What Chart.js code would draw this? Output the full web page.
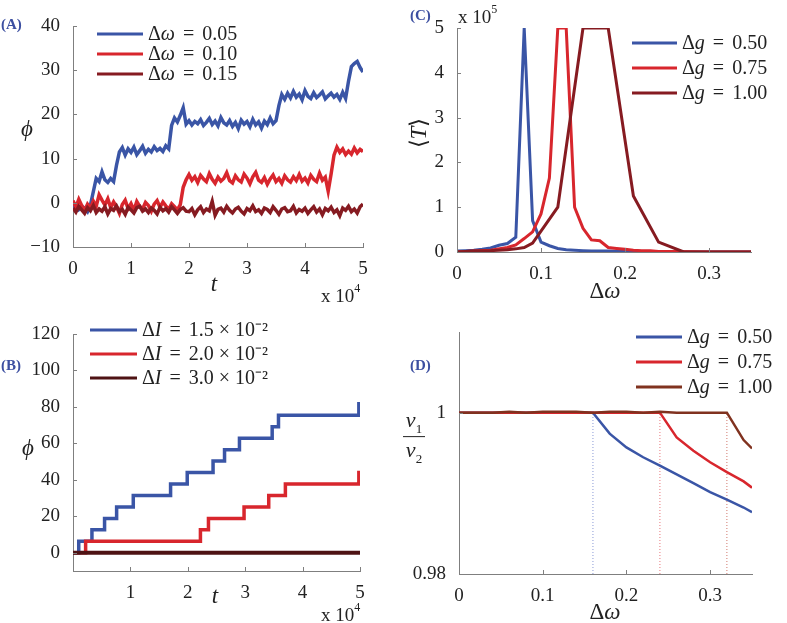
<!DOCTYPE html>
<html>
<head>
<meta charset="utf-8">
<title>phase slips</title>
<script src="https://cdn.jsdelivr.net/npm/chart.js@4.4.0/dist/chart.umd.min.js"></script>
<style>
body { margin: 0; background: #fff; width: 787px; height: 623px; position: relative; overflow: hidden;
       font-family: "Liberation Serif", serif; color: #222; }
.box { position: absolute; }
.txt { position: absolute; white-space: nowrap; line-height: 1; }
.c { transform: translate(-50%, -50%); }
.tag { color: #3c4fa1; font-weight: bold; font-size: 15px; }
.ax { font-size: 23px; }
.mul { font-size: 19px; }
.mul sup { font-size: 12px; position: relative; top: -3px; }
.frac { display: flex; flex-direction: column; align-items: center; font-size: 22px; }
.frac sub { font-size: 13px; }
.frac .bar { width: 22px; border-top: 1.5px solid #222; margin: 2px 0; }
</style>
</head>
<body>
<div class="box" style="left:0;top:0;width:393px;height:310px"><canvas id="chartA"></canvas></div>
<div class="box" style="left:0;top:310px;width:393px;height:313px"><canvas id="chartB"></canvas></div>
<div class="box" style="left:393px;top:0;width:394px;height:310px"><canvas id="chartC"></canvas></div>
<div class="box" style="left:393px;top:310px;width:394px;height:313px"><canvas id="chartD"></canvas></div>

<div class="txt tag" style="left:1px;top:17px">(A)</div>
<div class="txt tag" style="left:1px;top:358px">(B)</div>
<div class="txt tag" style="left:410px;top:8px">(C)</div>
<div class="txt tag" style="left:410px;top:358px">(D)</div>

<div class="txt ax c" style="left:27px;top:128px"><i>ϕ</i></div>
<div class="txt ax c" style="left:214px;top:283px"><i>t</i></div>
<div class="txt mul" style="left:321px;top:285px">x 10<sup>4</sup></div>

<div class="txt ax c" style="left:28px;top:447px"><i>ϕ</i></div>
<div class="txt ax c" style="left:215px;top:595px"><i>t</i></div>
<div class="txt mul" style="left:321px;top:604px">x 10<sup>4</sup></div>

<div class="txt mul" style="left:458px;top:6px">x 10<sup>5</sup></div>
<div class="txt ax c" style="left:418px;top:133px;transform:translate(-50%,-50%) rotate(-90deg)">⟨<i>T</i>⟩</div>
<div class="txt ax c" style="left:605px;top:290px">Δ<i>ω</i></div>

<div class="txt c" style="left:414px;top:437px"><div class="frac"><div><i>ν</i><sub>1</sub></div><div class="bar"></div><div><i>ν</i><sub>2</sub></div></div></div>
<div class="txt ax c" style="left:605px;top:611px">Δ<i>ω</i></div>

<script>
// ---------- (A) phi(t) for three frequency mismatches, sampled every 500 ----------
const labelsA = ["Δω = 0.05", "Δω = 0.10", "Δω = 0.15"];
const phiA1 = [
  -1, -0.5, -1.5, -0.8, -1.2, -2, -0.5, 2.5, 5.5, 4.8,
  7, 5.2, 4.6, 5.5, 4.8, 8.5, 11.5, 12.5, 10.8, 12.2,
  11.4, 12.6, 10.9, 11.8, 12.8, 11.2, 12.1, 11.5, 12.7, 11.8,
  12.3, 11.6, 12.9, 12.2, 17.5, 19.2, 18.3, 19.8, 21.5, 17.8,
  18.6, 17.6, 18.4, 17.9, 18.8, 17.5, 18.2, 19.1, 17.7, 18.5,
  17.4, 19.3, 18.1, 17.6, 18.6, 17.3, 18.2, 16.8, 18.7, 17.8,
  18.4, 17.2, 18.9, 17.6, 18.3, 16.9, 18.5, 17.7, 19.2, 17.9,
  18.6, 22, 24.5, 23.4, 24.8, 23.7, 25.2, 23.9, 24.6, 23.3,
  25.4, 24.1, 23.6, 24.9, 23.8, 24.4, 25.1, 23.5, 24.2, 24.8,
  23.9, 24.5, 23.4, 25, 23.6, 27.5, 30.8, 31.5, 32, 30.6,
  29.6
];
const phiA2 = [
  0.5, -1, 0.8, -0.6, -1.8, -0.3, -1.2, 0.4, -0.8, 1.8,
  0.6, -0.5, 0.9, -1.1, 0.2, -0.9, -2.4, -0.4, 0.6, -1.3,
  -0.2, -1.7, 0.3, -0.8, -1.4, 0.1, -0.6, -1.9, -0.3, 0.5,
  -1, 0.2, -0.7, -1.5, -0.2, -0.9, -1.6, -0.4, 3.5, 5.2,
  6.4, 5.1, 5.9, 4.6, 6.2, 5.4, 4.8, 6.6, 5.3, 4.4,
  5.8, 4.9, 5.5, 6.8, 5, 4.5, 6.1, 5.2, 4.7, 6.5,
  5.6, 4.3, 5.9, 6.9, 5.1, 4.6, 5.7, 4.2, 5.4, 6.3,
  4.8, 5.5, 4.4, 6.1, 5.2, 4.7, 5.9, 5, 6.4, 4.9,
  5.6, 4.5, 6.2, 5.3, 4.8, 6.7, 5.1, 5.8, 2.6, 6.5,
  10.8, 12.6, 11.4, 12.2, 10.9, 11.7, 11, 12.4, 11.3, 12.1,
  11.6
];
const phiA3 = [
  -1.2, -2.1, -0.8, -1.6, -2.4, -1.1, -1.8, -0.6, -2.2, -1.4,
  -1.9, -0.9, -2.5, -1.3, -1.7, -0.7, -2.0, -1.5, -2.6, -1.0,
  -1.6, -2.3, -1.1, -0.8, -1.9, -1.4, -2.2, -1.2, -1.7, -2.5,
  -1.0, -1.8, -1.3, -2.1, -0.9, -1.6, -2.4, -1.5, -1.1, -1.9,
  -2.0, -1.3, -2.7, -1.6, -0.9, -2.2, -1.4, -1.8, 0.3, -2.8,
  -1.5, -1.2, -2.1, -0.8, -1.7, -2.3, -1.4, -1.0, -1.9, -2.5,
  -1.3, -1.8, -0.7, -2.0, -1.6, -2.4, -1.2, -1.5, -2.2, -0.9,
  -1.7, -2.6, -1.4, -1.1, -2.0, -1.8, -0.8, -2.3, -1.5, -1.9,
  -1.2, -2.4, -1.6, -0.9, -2.1, -1.4, -2.7, -1.3, -1.8, -1.0,
  -2.2, -1.6, -2.9, -1.2, -1.7, -0.8, -2.0, -1.4, -2.3, -0.9,
  -0.3
];
const tA = phiA1.map((_, i) => i * 500);
const xTicksA = [0, 10000, 20000, 30000, 40000, 50000];
const xLabelsA = ["0", "1", "2", "3", "4", "5"];
const yTicksA = [-10, 0, 10, 20, 30, 40];
const yLabelsA = ["−10", "0", "10", "20", "30", "40"];

// ---------- (B) phase jumps (step times and levels) ----------
const labelsB = ["ΔI = 1.5 × 10⁻²", "ΔI = 2.0 × 10⁻²", "ΔI = 3.0 × 10⁻²"];
const tB1 = [0, 1000, 3300, 5500, 7600, 10500, 17000, 19900, 24400, 26400, 29000, 34700, 35800, 49800, 50000];
const phiB1 = [0, 6.3, 12.6, 18.8, 25.1, 31.4, 37.7, 44.0, 50.3, 56.5, 62.8, 69.1, 75.4, 81.7, 81.7];
const tB2 = [0, 2200, 22200, 23600, 29800, 34100, 37000, 49800, 50000];
const phiB2 = [0, 6.3, 12.6, 18.8, 25.1, 31.4, 37.7, 44.0, 44.0];
const tB3 = [0, 50000];
const phiB3 = [0, 0];
const xTicksB = [0, 10000, 20000, 30000, 40000, 50000];
const xLabelsB = ["", "1", "2", "3", "4", "5"];
const yTicksB = [0, 20, 40, 60, 80, 100, 120];
const yLabelsB = ["0", "20", "40", "60", "80", "100", "120"];

// ---------- (C) mean slip time <T> (x 10^5) vs Δω ----------
const labelsC = ["Δg = 0.50", "Δg = 0.75", "Δg = 1.00"];
const wC1 = [0, 0.01, 0.02, 0.03, 0.04, 0.05, 0.06, 0.07, 0.08, 0.09, 0.10, 0.11, 0.12, 0.13, 0.14, 0.15, 0.16, 0.18, 0.20, 0.22, 0.24, 0.30, 0.35];
const TC1 = [0.02, 0.03, 0.04, 0.06, 0.09, 0.15, 0.19, 0.33, 5.0, 0.7, 0.22, 0.14, 0.08, 0.05, 0.04, 0.03, 0.02, 0.02, 0.01, 0.01, 0, 0, 0];
const wC2 = [0, 0.02, 0.04, 0.06, 0.07, 0.08, 0.09, 0.10, 0.11, 0.12, 0.13, 0.14, 0.15, 0.16, 0.17, 0.18, 0.19, 0.20, 0.21, 0.22, 0.23, 0.24, 0.26, 0.30, 0.35];
const TC2 = [0, 0.02, 0.04, 0.1, 0.16, 0.3, 0.45, 0.85, 1.65, 5, 5, 1.0, 0.53, 0.27, 0.25, 0.1, 0.08, 0.06, 0.04, 0.03, 0.03, 0.01, 0.01, 0, 0];
const wC3 = [0, 0.02, 0.04, 0.06, 0.07, 0.08, 0.09, 0.12, 0.15, 0.18, 0.21, 0.24, 0.27, 0.35];
const TC3 = [0, 0.02, 0.03, 0.05, 0.07, 0.1, 0.2, 1.0, 5, 5, 1.25, 0.22, 0, 0];
const xTicksC = [0, 0.1, 0.2, 0.3];
const xLabelsC = ["0", "0.1", "0.2", "0.3"];
const yTicksC = [0, 1, 2, 3, 4, 5];
const yLabelsC = ["0", "1", "2", "3", "4", "5"];

// ---------- (D) frequency ratio nu1/nu2 vs Δω ----------
const labelsD = ["Δg = 0.50", "Δg = 0.75", "Δg = 1.00"];
const wD = [0, 0.02, 0.04, 0.06, 0.08, 0.10, 0.12, 0.14, 0.16, 0.18, 0.20, 0.22, 0.24, 0.26, 0.28, 0.30, 0.32, 0.34, 0.35];
const nuD1 = [1, 1, 1, 1, 1, 1, 1, 1, 1, 0.9974, 0.9957, 0.99447, 0.99344, 0.99234, 0.99127, 0.99016, 0.98922, 0.98824, 0.98766];
const nuD2 = [1, 1, 1, 1, 1, 1, 1, 1, 1, 1, 1, 1, 1, 0.99693, 0.99529, 0.99385, 0.99262, 0.99148, 0.9907];
const nuD3 = [1, 1, 1, 1.0001, 1, 1.0001, 1.0001, 1.0001, 1, 1.0001, 1.0001, 1, 1.0001, 1, 1, 1, 1, 0.9966, 0.99557];
const thresholdsD = [0.16, 0.24, 0.32];
const xTicksD = [0, 0.1, 0.2, 0.3];
const xLabelsD = ["0", "0.1", "0.2", "0.3"];
const yTicksD = [0.98, 1];
const yLabelsD = ["0.98", "1"];

const BLUE = "#3a55a6";
const RED = "#d8262d";
const DARKRED = "#861b21";
const BROWN = "#80321f";
const DARKEST = "#4e1314";
const FONT = '"Liberation Serif", serif';

function pts(xs, ys) {
  return xs.map((x, i) => ({ x: x, y: ys[i] }));
}

// draws "Δω = 0.05" style labels, variables in italic
function drawMath(ctx, str, x, y, size) {
  let cx = x;
  for (const ch of str) {
    const it = "ωgIϕtTν".includes(ch);
    ctx.font = (it ? "italic " : "") + size + "px " + FONT;
    if (ch === "=") cx += 3;
    ctx.fillText(ch, cx, y);
    cx += ctx.measureText(ch).width;
    if (ch === "=") cx += 3;
  }
}

const mathLegend = {
  id: "mathLegend",
  afterDraw(chart) {
    const o = chart.options.plugins.mathLegend;
    if (!o) return;
    const ctx = chart.ctx;
    let row = 0;
    chart.data.datasets.forEach(ds => {
      if (ds.noLegend) return;
      const y = o.y + row * o.rowH;
      ctx.save();
      ctx.strokeStyle = ds.borderColor;
      ctx.lineWidth = 3;
      ctx.beginPath();
      ctx.moveTo(o.x, y);
      ctx.lineTo(o.x + o.len, y);
      ctx.stroke();
      ctx.fillStyle = "#222";
      ctx.textBaseline = "middle";
      drawMath(ctx, ds.label, o.x + o.len + 5, y + 1, o.size);
      ctx.restore();
      row++;
    });
  }
};

// MATLAB style ticks pointing into the axes
const innerTicks = {
  id: "innerTicks",
  afterDraw(chart) {
    const ctx = chart.ctx;
    const a = chart.chartArea;
    const xs = chart.scales.x, ys = chart.scales.y;
    ctx.save();
    ctx.strokeStyle = "#7f7f7f";
    ctx.lineWidth = 1;
    ctx.beginPath();
    xs.ticks.forEach(t => {
      const px = Math.round(xs.getPixelForValue(t.value)) + 0.5;
      ctx.moveTo(px, a.bottom);
      ctx.lineTo(px, a.bottom - 4);
    });
    ys.ticks.forEach(t => {
      const py = Math.round(ys.getPixelForValue(t.value)) + 0.5;
      ctx.moveTo(a.left, py);
      ctx.lineTo(a.left + 4, py);
    });
    ctx.stroke();
    ctx.restore();
  }
};

function axis(min, max, ticks, labels, fitSize, horizontal) {
  const s = {
    type: "linear",
    min: min,
    max: max,
    afterBuildTicks: sc => { sc.ticks = ticks.map(v => ({ value: v })); },
    ticks: {
      autoSkip: false,
      maxRotation: 0,
      color: "#222",
      font: { family: FONT, size: 19 },
      padding: horizontal ? 3 : 5,
      callback: (v, i) => labels[i]
    },
    grid: { display: false },
    border: { display: true, color: "#7f7f7f", width: 1 }
  };
  if (horizontal) s.afterFit = sc => { sc.height = fitSize; };
  else s.afterFit = sc => { sc.width = fitSize; };
  return s;
}

function makeChart(id, datasets, p) {
  new Chart(document.getElementById(id), {
    type: "line",
    data: { datasets: datasets },
    plugins: [mathLegend, innerTicks],
    options: {
      responsive: true,
      maintainAspectRatio: false,
      animation: false,
      layout: { padding: { left: 0, top: p.top, right: p.right, bottom: 0 } },
      elements: { point: { radius: 0 }, line: { tension: 0 } },
      scales: {
        x: axis(p.xMin, p.xMax, p.xTicks, p.xLabels, p.xH, true),
        y: axis(p.yMin, p.yMax, p.yTicks, p.yLabels, p.yW, false)
      },
      plugins: {
        legend: { display: false },
        tooltip: { enabled: false },
        mathLegend: p.legend
      }
    }
  });
}

function series(label, data, color, width, order, extra) {
  return Object.assign({ label: label, data: data, borderColor: color, borderWidth: width, order: order, fill: false }, extra || {});
}

makeChart("chartA", [
  series(labelsA[0], pts(tA, phiA1), BLUE, 3.5, 3),
  series(labelsA[1], pts(tA, phiA2), RED, 3.5, 2),
  series(labelsA[2], pts(tA, phiA3), DARKRED, 3.5, 1)
], { top: 26, right: 30, xH: 63, yW: 73,
     xMin: 0, xMax: 50000, xTicks: xTicksA, xLabels: xLabelsA,
     yMin: -10, yMax: 40, yTicks: yTicksA, yLabels: yLabelsA,
     legend: { x: 97, y: 34, rowH: 20, len: 46, size: 20 } });

makeChart("chartB", [
  series(labelsB[0], pts(tB1, phiB1), BLUE, 3.5, 3, { stepped: true }),
  series(labelsB[1], pts(tB2, phiB2), RED, 3.5, 2, { stepped: true }),
  series(labelsB[2], pts(tB3, phiB3), DARKEST, 4, 1)
], { top: 24, right: 33, xH: 52, yW: 73,
     xMin: 0, xMax: 50000, xTicks: xTicksB, xLabels: xLabelsB,
     yMin: -10, yMax: 120, yTicks: yTicksB, yLabels: yLabelsB,
     legend: { x: 90, y: 20, rowH: 24, len: 47, size: 20 } });

makeChart("chartC", [
  series(labelsC[0], pts(wC1, TC1), BLUE, 3, 3),
  series(labelsC[1], pts(wC2, TC2), RED, 3, 2),
  series(labelsC[2], pts(wC3, TC3), DARKRED, 3, 1)
], { top: 28, right: 36, xH: 58, yW: 64,
     xMin: 0, xMax: 0.35, xTicks: xTicksC, xLabels: xLabelsC,
     yMin: 0, yMax: 5, yTicks: yTicksC, yLabels: yLabelsC,
     legend: { x: 239, y: 43, rowH: 25, len: 45, size: 20 } });

const dotted = (x, color) => series("", [{ x: x, y: 0.98 }, { x: x, y: 1 }], color, 1, 5, { borderDash: [1, 2], noLegend: true });
makeChart("chartD", [
  series(labelsD[0], pts(wD, nuD1), BLUE, 2.5, 3),
  series(labelsD[1], pts(wD, nuD2), RED, 2.5, 2),
  series(labelsD[2], pts(wD, nuD3), BROWN, 2.5, 1),
  dotted(thresholdsD[0], "#8a9ad6"),
  dotted(thresholdsD[1], "#e8777b"),
  dotted(thresholdsD[2], "#d0786e")
], { top: 22, right: 35, xH: 49, yW: 66,
     xMin: 0, xMax: 0.35, xTicks: xTicksD, xLabels: xLabelsD,
     yMin: 0.98, yMax: 1.01, yTicks: yTicksD, yLabels: yLabelsD,
     legend: { x: 243, y: 27, rowH: 25, len: 46, size: 20 } });
</script>
</body>
</html>
